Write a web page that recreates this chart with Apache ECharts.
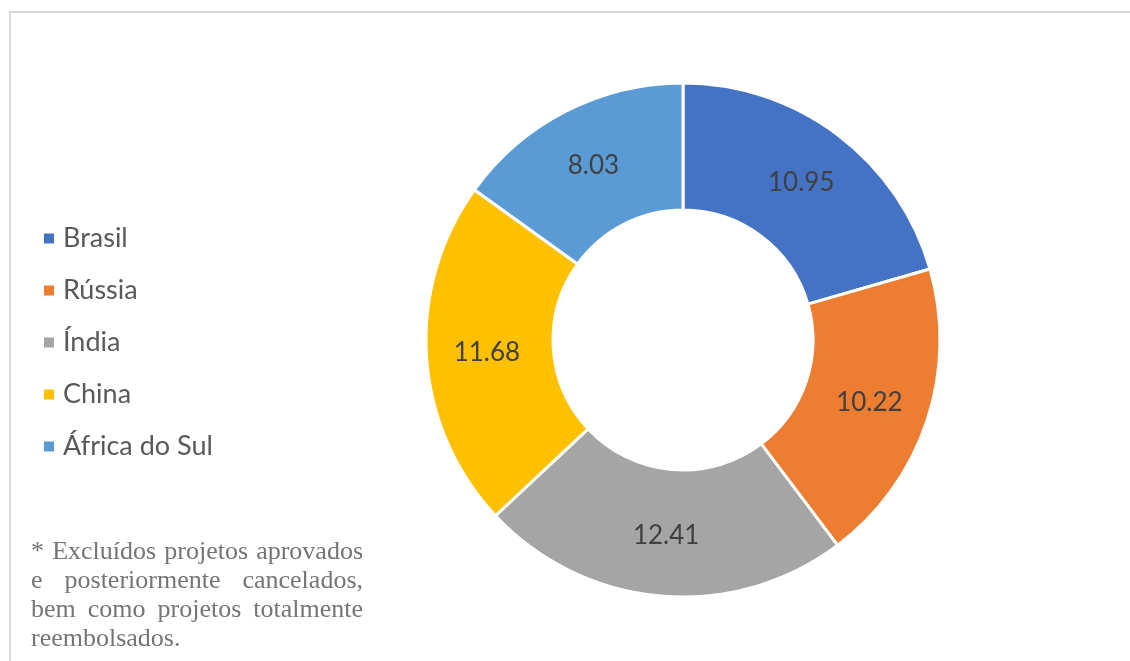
<!DOCTYPE html>
<html>
<head>
<meta charset="utf-8">
<script src="https://cdn.jsdelivr.net/npm/echarts@6/dist/echarts.min.js"></script>
<style>
html,body{margin:0;padding:0;background:#fff;}
#frame{position:absolute;left:9px;top:11px;width:1130px;height:700px;border:2px solid #d9d9d9;box-sizing:border-box;}
#chart{position:absolute;left:0;top:0;width:1130px;height:661px;}
#note{position:absolute;left:31px;top:536px;width:332px;font-family:"Liberation Serif","Times New Roman",serif;font-size:26px;line-height:29px;color:#757575;}
#note div{white-space:nowrap;text-align:justify;text-align-last:justify;}
#note div.last{text-align-last:left;}
</style>
</head>
<body>
<div id="frame"></div>
<div id="chart"></div>
<div id="note"><div>* Excluídos projetos aprovados</div><div>e posteriormente cancelados,</div><div>bem como projetos totalmente</div><div class="last">reembolsados.</div></div>
<script>
const categories = ["Brasil", "Rússia", "Índia", "China", "África do Sul"];
const values = [10.95, 10.22, 12.41, 11.68, 8.03];
const colors = ["#4472C4", "#ED7D31", "#A5A5A5", "#FFC000", "#5B9BD5"];

const chart = echarts.init(document.getElementById('chart'));
chart.setOption({
  animation: false,
  color: colors,
  legend: {
    orient: 'vertical',
    left: 42,
    top: 225,
    padding: 0,
    itemWidth: 12,
    itemHeight: 12,
    itemGap: 25,
    icon: 'rect',
    textStyle: {fontFamily: 'Lato, "Open Sans", sans-serif', fontSize: 27, color: '#595959', lineHeight: 26, padding: [0,0,0,3]},
    data: categories
  },
  series: [{
    type: 'pie',
    center: [683, 340],
    radius: [130, 257],
    startAngle: 90,
    clockwise: true,
    avoidLabelOverlap: false,
    itemStyle: {borderColor: '#fff', borderWidth: 3},
    label: {show: true, position: 'inside', formatter: function(p){return p.value.toFixed(2);}, fontFamily: 'Lato, "Open Sans", sans-serif', fontSize: 26, color: '#404040'},
    labelLine: {show: false},
    emphasis: {disabled: true},
    data: categories.map((c, i) => ({name: c, value: values[i]}))
  }]
});
</script>
</body>
</html>
